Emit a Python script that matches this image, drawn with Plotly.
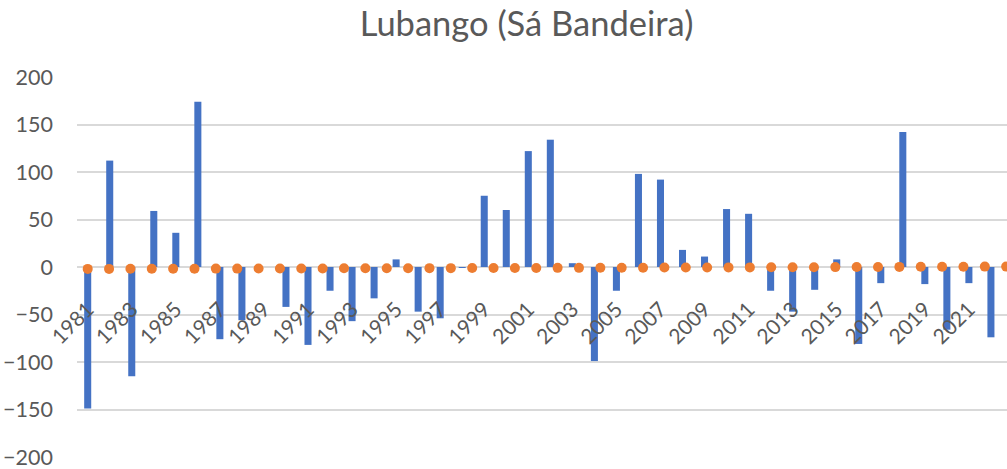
import plotly.graph_objects as go

# Bar series (anomalies) per year
bar_years = list(range(1981, 2023))
bar_values = [-149, 112, -115, 59, 36, 174, -76, -56, 0, -42,
              -82, -25, -57, -33, 8, -47, -54, -1, 75, 60,
              122, 134, 4, -99, -25, 98, 92, 18, 11, 61,
              56, -25, -47, -24, 8, -81, -17, 142, -18, -66,
              -17, -74]

# Orange marker series (near zero)
dot_years = list(range(1981, 2025))
dot_values = [-2.0, -2.0, -1.9, -1.9, -1.8, -1.8, -1.7, -1.7, -1.6, -1.6,
              -1.5, -1.5, -1.4, -1.4, -1.3, -1.3, -1.2, -1.2, -1.1, -1.1,
              -1.0, -1.0, -0.9, -0.9, -0.8, -0.8, -0.7, -0.6, -0.6, -0.5,
              -0.4, -0.4, -0.3, -0.2, -0.2, -0.1, 0.0, 0.0, 0.1, 0.2,
              0.2, 0.3, 0.4, 0.4]

title_text = "Lubango (Sá Bandeira)"
y_ticks = [-200, -150, -100, -50, 0, 50, 100, 150, 200]

FONT = "Lato"
GRAY = "#595959"
GRID = "#d9d9d9"

fig = go.Figure()
fig.add_trace(go.Bar(x=bar_years, y=bar_values, width=0.32,
                     marker=dict(color="#4472C4", line=dict(width=0)),
                     xaxis="x", yaxis="y", showlegend=False))
fig.add_trace(go.Scatter(x=dot_years, y=dot_values, mode="markers",
                         marker=dict(color="#ED7D31", size=10),
                         xaxis="x2", yaxis="y", showlegend=False))

W, H = 1007, 469
left, right = 77, 1007
top, bottom = 77, 457
first_bar_px = 87.7
bar_px = 22.03
dot_px = 21.36
bar_range = [1981 - (first_bar_px - left) / bar_px, 1981 + (right - first_bar_px) / bar_px]
dot_range = [1981 - (first_bar_px - left) / dot_px, 1981 + (right - first_bar_px) / dot_px]

fig.update_layout(
    width=W, height=H,
    margin=dict(l=left, r=W - right, t=top, b=H - bottom, autoexpand=False),
    plot_bgcolor="white", paper_bgcolor="white",
    title=dict(text=title_text, x=526.5 / W, xanchor="center",
               y=1 - 24 / H, yanchor="middle",
               font=dict(family=FONT, size=34.5, color=GRAY)),
    xaxis=dict(range=bar_range, tickmode="linear", tick0=1981, dtick=2,
               tickangle=-45, showgrid=False, zeroline=False, showline=False,
               anchor="free", position=0.5, automargin=False,
               ticklabelstandoff=25, ticklabeloverflow="allow",
               tickfont=dict(family=FONT, size=21, color=GRAY)),
    xaxis2=dict(range=dot_range, overlaying="x", visible=False),
    yaxis=dict(range=[-200, 200], tickvals=y_ticks, showgrid=True,
               gridcolor=GRID, gridwidth=1.5, zeroline=True,
               zerolinecolor=GRID, zerolinewidth=1.5, automargin=False,
               ticklabelstandoff=23, ticklabeloverflow="allow",
               tickfont=dict(family=FONT, size=21.5, color=GRAY)),
)

fig.write_html("out.html", config={"displayModeBar": False},
               post_script="document.body.style.margin='0px';")
